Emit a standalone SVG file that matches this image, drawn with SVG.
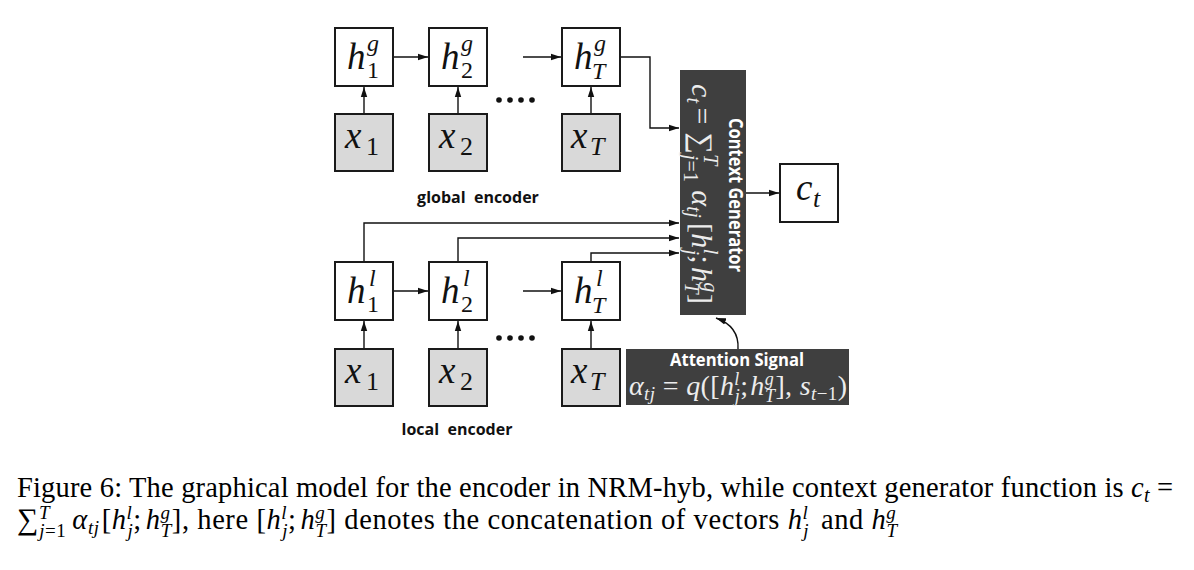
<svg xmlns="http://www.w3.org/2000/svg" width="1194" height="570" viewBox="0 0 1194 570">
<style>
.box{fill:#ffffff;stroke:#1a1a1a;stroke-width:2}
.gbox{fill:#d9d9d9;stroke:#1a1a1a;stroke-width:2}
.dark{fill:#3f3f3f}
.mi{font-family:"Liberation Serif",serif;font-style:italic;fill:#111}
.mr{font-family:"Liberation Serif",serif;fill:#111}
.lbl{font-family:"Open Sans","Liberation Sans",sans-serif;font-weight:bold;font-size:16px;fill:#111}
.wl{font-family:"Open Sans","Liberation Sans",sans-serif;font-weight:bold;fill:#ffffff}
.wm{font-family:"Liberation Serif","DejaVu Serif",serif;fill:#ececec}
.cap{font-family:"Liberation Serif",serif;font-size:28.5px;fill:#000}
.ln{fill:none;stroke:#111;stroke-width:1.4}
.it{font-style:italic}
</style>
<defs>
<marker id="ah" markerWidth="10" markerHeight="8" refX="10" refY="4" orient="auto" markerUnits="userSpaceOnUse"><path d="M0,0.8 L10,4 L0,7.2 z" fill="#111"/></marker>
</defs>

<g id="connectors">
<line class="ln" x1="364" y1="114" x2="364" y2="87" marker-end="url(#ah)"/>
<line class="ln" x1="458" y1="114" x2="458" y2="87" marker-end="url(#ah)"/>
<line class="ln" x1="591" y1="114" x2="591" y2="87" marker-end="url(#ah)"/>
<line class="ln" x1="393" y1="57" x2="428" y2="57" marker-end="url(#ah)"/>
<line class="ln" x1="523" y1="57" x2="561" y2="57" marker-end="url(#ah)"/>
<polyline class="ln" points="620,57 650,57 650,128 679,128" marker-end="url(#ah)"/>
<line class="ln" x1="364" y1="349" x2="364" y2="321" marker-end="url(#ah)"/>
<line class="ln" x1="458" y1="349" x2="458" y2="321" marker-end="url(#ah)"/>
<line class="ln" x1="591" y1="349" x2="591" y2="321" marker-end="url(#ah)"/>
<line class="ln" x1="393" y1="291" x2="428" y2="291" marker-end="url(#ah)"/>
<line class="ln" x1="523" y1="291" x2="561" y2="291" marker-end="url(#ah)"/>
<polyline class="ln" points="364,262 364,223 679,223" marker-end="url(#ah)"/>
<polyline class="ln" points="458,262 458,238 679,238" marker-end="url(#ah)"/>
<polyline class="ln" points="591,262 591,253 679,253" marker-end="url(#ah)"/>
<line class="ln" x1="746" y1="193" x2="779" y2="193" marker-end="url(#ah)"/>
<path class="ln" d="M738,349 C739,333 730,323 716,318" marker-end="url(#ah)"/>
</g>

<g id="dots">
<circle cx="499" cy="100" r="2.8" fill="#111"/><circle cx="510" cy="100" r="2.8" fill="#111"/><circle cx="521" cy="100" r="2.8" fill="#111"/><circle cx="532" cy="100" r="2.8" fill="#111"/>
<circle cx="499" cy="338" r="2.8" fill="#111"/><circle cx="510" cy="338" r="2.8" fill="#111"/><circle cx="521" cy="338" r="2.8" fill="#111"/><circle cx="532" cy="338" r="2.8" fill="#111"/>
</g>

<g id="hg1"><rect class="box" x="335" y="28" width="58" height="58"/><text class="mi" x="347" y="69" font-size="37">h</text><text class="mi" x="367" y="51" font-size="24">g</text><text class="mr" x="367" y="78" font-size="24">1</text></g>
<g id="hg2"><rect class="box" x="429" y="28" width="58" height="58"/><text class="mi" x="441" y="69" font-size="37">h</text><text class="mi" x="461" y="51" font-size="24">g</text><text class="mr" x="461" y="78" font-size="24">2</text></g>
<g id="hgT"><rect class="box" x="562" y="28" width="58" height="58"/><text class="mi" x="574" y="69" font-size="37">h</text><text class="mi" x="594" y="51" font-size="24">g</text><text class="mi" x="592" y="79" font-size="24">T</text></g>

<g id="xg1"><rect class="gbox" x="335" y="114" width="58" height="57"/><text class="mi" x="345" y="148" font-size="37">x</text><text class="mr" x="366" y="155" font-size="26">1</text></g>
<g id="xg2"><rect class="gbox" x="429" y="114" width="58" height="57"/><text class="mi" x="439" y="148" font-size="37">x</text><text class="mr" x="460" y="155" font-size="26">2</text></g>
<g id="xgT"><rect class="gbox" x="562" y="114" width="58" height="57"/><text class="mi" x="571" y="148" font-size="37">x</text><text class="mi" x="590" y="155" font-size="26">T</text></g>

<g id="global-label"><text class="lbl" x="478" y="203" text-anchor="middle" xml:space="preserve">global  encoder</text></g>

<g id="hl1"><rect class="box" x="335" y="262" width="58" height="58"/><text class="mi" x="347" y="303" font-size="37">h</text><text class="mi" x="369" y="286" font-size="24">l</text><text class="mr" x="367" y="312" font-size="24">1</text></g>
<g id="hl2"><rect class="box" x="429" y="262" width="58" height="58"/><text class="mi" x="441" y="303" font-size="37">h</text><text class="mi" x="463" y="286" font-size="24">l</text><text class="mr" x="461" y="312" font-size="24">2</text></g>
<g id="hlT"><rect class="box" x="562" y="262" width="58" height="58"/><text class="mi" x="574" y="303" font-size="37">h</text><text class="mi" x="596" y="286" font-size="24">l</text><text class="mi" x="592" y="313" font-size="24">T</text></g>

<g id="xl1"><rect class="gbox" x="335" y="349" width="58" height="57"/><text class="mi" x="345" y="383" font-size="37">x</text><text class="mr" x="366" y="390" font-size="26">1</text></g>
<g id="xl2"><rect class="gbox" x="429" y="349" width="58" height="57"/><text class="mi" x="439" y="383" font-size="37">x</text><text class="mr" x="460" y="390" font-size="26">2</text></g>
<g id="xlT"><rect class="gbox" x="562" y="349" width="58" height="57"/><text class="mi" x="571" y="383" font-size="37">x</text><text class="mi" x="590" y="390" font-size="26">T</text></g>

<g id="local-label"><text class="lbl" x="457" y="435" text-anchor="middle" xml:space="preserve">local  encoder</text></g>

<g id="context-generator">
<rect class="dark" x="680" y="70" width="66" height="245"/>
<g transform="translate(692,84) rotate(90)"><text class="wm" x="0" y="0" font-size="30" textLength="220" lengthAdjust="spacing"><tspan class="it">c</tspan><tspan class="it" font-size="20" dy="5">t</tspan><tspan dx="4" dy="-5">= </tspan><tspan>∑</tspan><tspan class="it" font-size="20" dy="-12">T</tspan><tspan font-size="20" dx="-11" dy="20"><tspan class="it">j</tspan>=1</tspan><tspan class="it" dx="8" dy="-8">α</tspan><tspan class="it" font-size="20" dy="5">tj</tspan><tspan dx="5" dy="-5">[</tspan><tspan class="it">h</tspan><tspan class="it" font-size="20" dy="-12">l</tspan><tspan class="it" font-size="20" dx="-5" dy="19">j</tspan><tspan dy="-7">;</tspan><tspan class="it" dx="3">h</tspan><tspan class="it" font-size="20" dy="-12">g</tspan><tspan class="it" font-size="20" dx="-10" dy="19">T</tspan><tspan dy="-7">]</tspan></text></g>
<text class="wl" transform="translate(729,118) rotate(90)" x="0" y="0" font-size="20" textLength="154" lengthAdjust="spacingAndGlyphs">Context Generator</text>
</g>

<g id="ct"><rect class="box" x="780" y="164" width="58" height="58"/><text class="mi" x="796" y="200" font-size="37">c</text><text class="mi" x="813" y="207" font-size="26">t</text></g>

<g id="attention-signal">
<rect class="dark" x="626" y="349" width="223" height="56"/>
<text class="wl" x="737" y="366" font-size="18" text-anchor="middle" textLength="134" lengthAdjust="spacingAndGlyphs">Attention Signal</text>
<text class="wm" x="629" y="395" font-size="28" textLength="218" lengthAdjust="spacing"><tspan class="it">α</tspan><tspan class="it" font-size="19" dy="5">tj</tspan><tspan dy="-5"> = </tspan><tspan class="it">q</tspan><tspan>([</tspan><tspan class="it">h</tspan><tspan class="it" font-size="18" dy="-10">l</tspan><tspan class="it" font-size="18" dx="-5" dy="17">j</tspan><tspan dy="-7">;</tspan><tspan class="it" dx="2">h</tspan><tspan class="it" font-size="18" dy="-10">g</tspan><tspan class="it" font-size="18" dx="-9" dy="17">T</tspan><tspan dy="-7">], </tspan><tspan class="it">s</tspan><tspan font-size="19" dy="5"><tspan class="it">t</tspan>−1</tspan><tspan dy="-5">)</tspan></text>
</g>

<g id="caption">
<text class="cap" x="17" y="497" textLength="1156" lengthAdjust="spacing">Figure 6: The graphical model for the encoder in NRM-hyb, while context generator function is <tspan class="it">c</tspan><tspan class="it" font-size="20" dy="5">t</tspan><tspan dy="-5"> =</tspan></text>
<text class="cap" x="17" y="529" textLength="880" lengthAdjust="spacing"><tspan font-size="30">∑</tspan><tspan class="it" font-size="19" dy="-10">T</tspan><tspan font-size="19" dx="-11" dy="18"><tspan class="it">j</tspan>=1</tspan><tspan class="it" dx="6" dy="-8">α</tspan><tspan class="it" font-size="19" dy="5">tj</tspan><tspan dx="2" dy="-5">[</tspan><tspan class="it">h</tspan><tspan class="it" font-size="19" dy="-10">l</tspan><tspan class="it" font-size="19" dx="-5" dy="18">j</tspan><tspan dy="-8">;</tspan><tspan class="it" dx="4">h</tspan><tspan class="it" font-size="19" dy="-10">g</tspan><tspan class="it" font-size="19" dx="-10" dy="18">T</tspan><tspan dy="-8">], here [</tspan><tspan class="it">h</tspan><tspan class="it" font-size="19" dy="-10">l</tspan><tspan class="it" font-size="19" dx="-5" dy="18">j</tspan><tspan dy="-8">;</tspan><tspan class="it" dx="4">h</tspan><tspan class="it" font-size="19" dy="-10">g</tspan><tspan class="it" font-size="19" dx="-10" dy="18">T</tspan><tspan dy="-8">] denotes the concatenation of vectors </tspan><tspan class="it">h</tspan><tspan class="it" font-size="19" dy="-10">l</tspan><tspan class="it" font-size="19" dx="-5" dy="18">j</tspan><tspan dx="4" dy="-8"> and </tspan><tspan class="it">h</tspan><tspan class="it" font-size="19" dy="-10">g</tspan><tspan class="it" font-size="19" dx="-10" dy="18">T</tspan></text>
</g>
</svg>
